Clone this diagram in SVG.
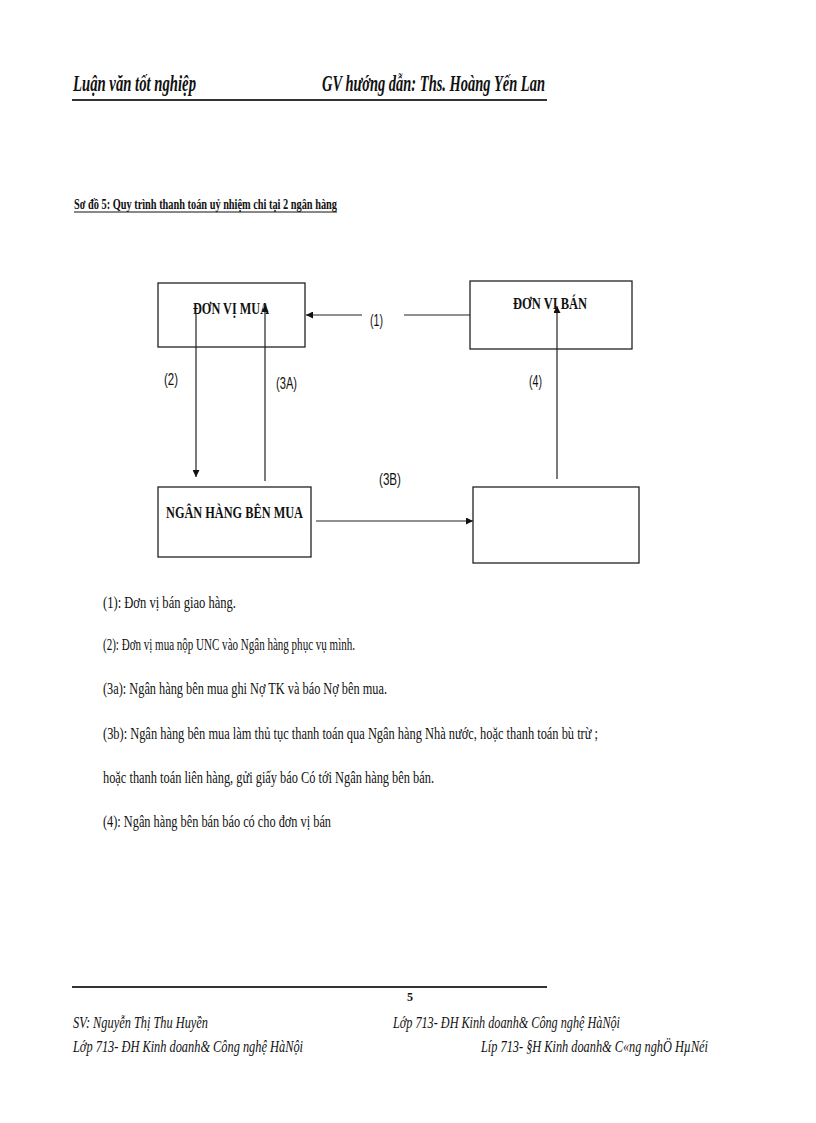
<svg xmlns="http://www.w3.org/2000/svg" width="816" height="1123" viewBox="0 0 816 1123">
<style>
.hdr{font-family:"Liberation Serif","DejaVu Serif",serif;font-weight:bold;font-style:italic;font-size:23px;fill:#111}
.ttl{font-family:"Liberation Serif","DejaVu Serif",serif;font-weight:bold;font-size:14px;fill:#111}
.box{fill:#fff;stroke:#222;stroke-width:1.3}
.bt{font-family:"Liberation Serif","DejaVu Serif",serif;font-weight:bold;font-size:17px;fill:#111}
.lbl{font-family:"Liberation Sans","DejaVu Sans",sans-serif;font-size:17px;fill:#111}
.txt{font-family:"Liberation Serif","DejaVu Serif",serif;font-size:16px;fill:#111}
.ft{font-family:"Liberation Serif","DejaVu Serif",serif;font-style:italic;font-size:16px;fill:#111}
.cn{stroke:#222;stroke-width:1.2;fill:none}
</style>
<defs>
<marker id="ah" viewBox="0 0 10 10" refX="10" refY="5" markerWidth="7" markerHeight="7" markerUnits="userSpaceOnUse" orient="auto">
<path d="M0,0 L10,5 L0,10 z" fill="#111"/>
</marker>
</defs>
<rect width="816" height="1123" fill="#fff"/>
<g id="header">
<text class="hdr" x="73" y="91" textLength="123" lengthAdjust="spacingAndGlyphs">Luận văn tốt nghiệp</text>
<text class="hdr" x="322" y="91" textLength="223" lengthAdjust="spacingAndGlyphs">GV hướng dẫn: Ths. Hoàng Yến Lan</text>
<line x1="72" y1="100" x2="547" y2="100" stroke="#333" stroke-width="2"/>
</g>
<g id="title">
<text class="ttl" x="74" y="209" textLength="263" lengthAdjust="spacingAndGlyphs">Sơ đồ  5: Quy trình thanh  toán uỷ nhiệm chi tại 2 ngân hàng</text>
<line x1="74" y1="212" x2="337" y2="212" stroke="#111" stroke-width="1"/>
</g>
<g id="node-don-vi-mua">
<rect class="box" x="158" y="283" width="147" height="64"/>
<text class="bt" x="193" y="314" textLength="76" lengthAdjust="spacingAndGlyphs">ĐƠN VỊ MUA</text>
</g>
<g id="node-don-vi-ban">
<rect class="box" x="470" y="281" width="162" height="68"/>
<text class="bt" x="513" y="309" textLength="74" lengthAdjust="spacingAndGlyphs">ĐƠN VỊ BÁN</text>
</g>
<g id="node-ngan-hang-ben-mua">
<rect class="box" x="158" y="487" width="153" height="70"/>
<text class="bt" x="166" y="518" textLength="137" lengthAdjust="spacingAndGlyphs">NGÂN HÀNG BÊN MUA</text>
</g>
<g id="node-ngan-hang-ben-ban">
<rect class="box" x="473" y="487" width="166" height="76"/>
</g>
<g id="connectors">
<line class="cn" x1="470" y1="315" x2="404" y2="315"/>
<line class="cn" x1="362" y1="315" x2="306" y2="315" marker-end="url(#ah)"/>
<line class="cn" x1="196" y1="313" x2="196" y2="477" marker-end="url(#ah)"/>
<line class="cn" x1="265" y1="481" x2="265" y2="305" marker-end="url(#ah)"/>
<line class="cn" x1="557" y1="479" x2="557" y2="306" marker-end="url(#ah)"/>
<line class="cn" x1="316" y1="521" x2="473" y2="521" marker-end="url(#ah)"/>
<text class="lbl" x="370" y="326" textLength="13" lengthAdjust="spacingAndGlyphs">(1)</text>
<text class="lbl" x="164" y="385" textLength="14" lengthAdjust="spacingAndGlyphs">(2)</text>
<text class="lbl" x="276" y="389" textLength="21" lengthAdjust="spacingAndGlyphs">(3A)</text>
<text class="lbl" x="529" y="387" textLength="13" lengthAdjust="spacingAndGlyphs">(4)</text>
<text class="lbl" x="379" y="485" textLength="22" lengthAdjust="spacingAndGlyphs">(3B)</text>
</g>
<g id="notes">
<text class="txt" x="103" y="608" textLength="133" lengthAdjust="spacingAndGlyphs">(1): Đơn vị bán giao  hàng.</text>
<text class="txt" x="103" y="650" textLength="252" lengthAdjust="spacingAndGlyphs">(2): Đơn vị mua  nộp UNC vào Ngân hàng  phục  vụ mình.</text>
<text class="txt" x="103" y="694" textLength="284" lengthAdjust="spacingAndGlyphs">(3a): Ngân hàng  bên mua ghi  Nợ TK và báo Nợ bên mua.</text>
<text class="txt" x="103" y="739" textLength="495" lengthAdjust="spacingAndGlyphs">(3b): Ngân hàng  bên mua làm  thủ  tục thanh  toán qua Ngân hàng  Nhà nước, hoặc thanh  toán bù trừ ;</text>
<text class="txt" x="103" y="783" textLength="331" lengthAdjust="spacingAndGlyphs">hoặc thanh  toán liên  hàng,  gửi giấy  báo Có tới Ngân hàng  bên bán.</text>
<text class="txt" x="103" y="827" textLength="228" lengthAdjust="spacingAndGlyphs">(4): Ngân hàng  bên bán báo có cho đơn vị bán</text>
</g>
<g id="footer">
<line x1="72" y1="987" x2="547" y2="987" stroke="#333" stroke-width="2"/>
<text x="407" y="1001" font-family="Liberation Serif, serif" font-weight="bold" font-size="12" fill="#111">5</text>
<text class="ft" x="73" y="1028" textLength="135" lengthAdjust="spacingAndGlyphs">SV: Nguyễn Thị Thu Huyền</text>
<text class="ft" x="393" y="1028" textLength="227" lengthAdjust="spacingAndGlyphs">Lớp 713- ĐH Kinh doanh&amp; Công nghệ HàNội</text>
<text class="ft" x="73" y="1052" textLength="230" lengthAdjust="spacingAndGlyphs">Lớp 713- ĐH Kinh doanh&amp; Công nghệ HàNội</text>
<text class="ft" x="481" y="1052" textLength="227" lengthAdjust="spacingAndGlyphs">Líp 713- §H Kinh doanh&amp; C«ng nghÖ HµNéi</text>
</g>
</svg>
